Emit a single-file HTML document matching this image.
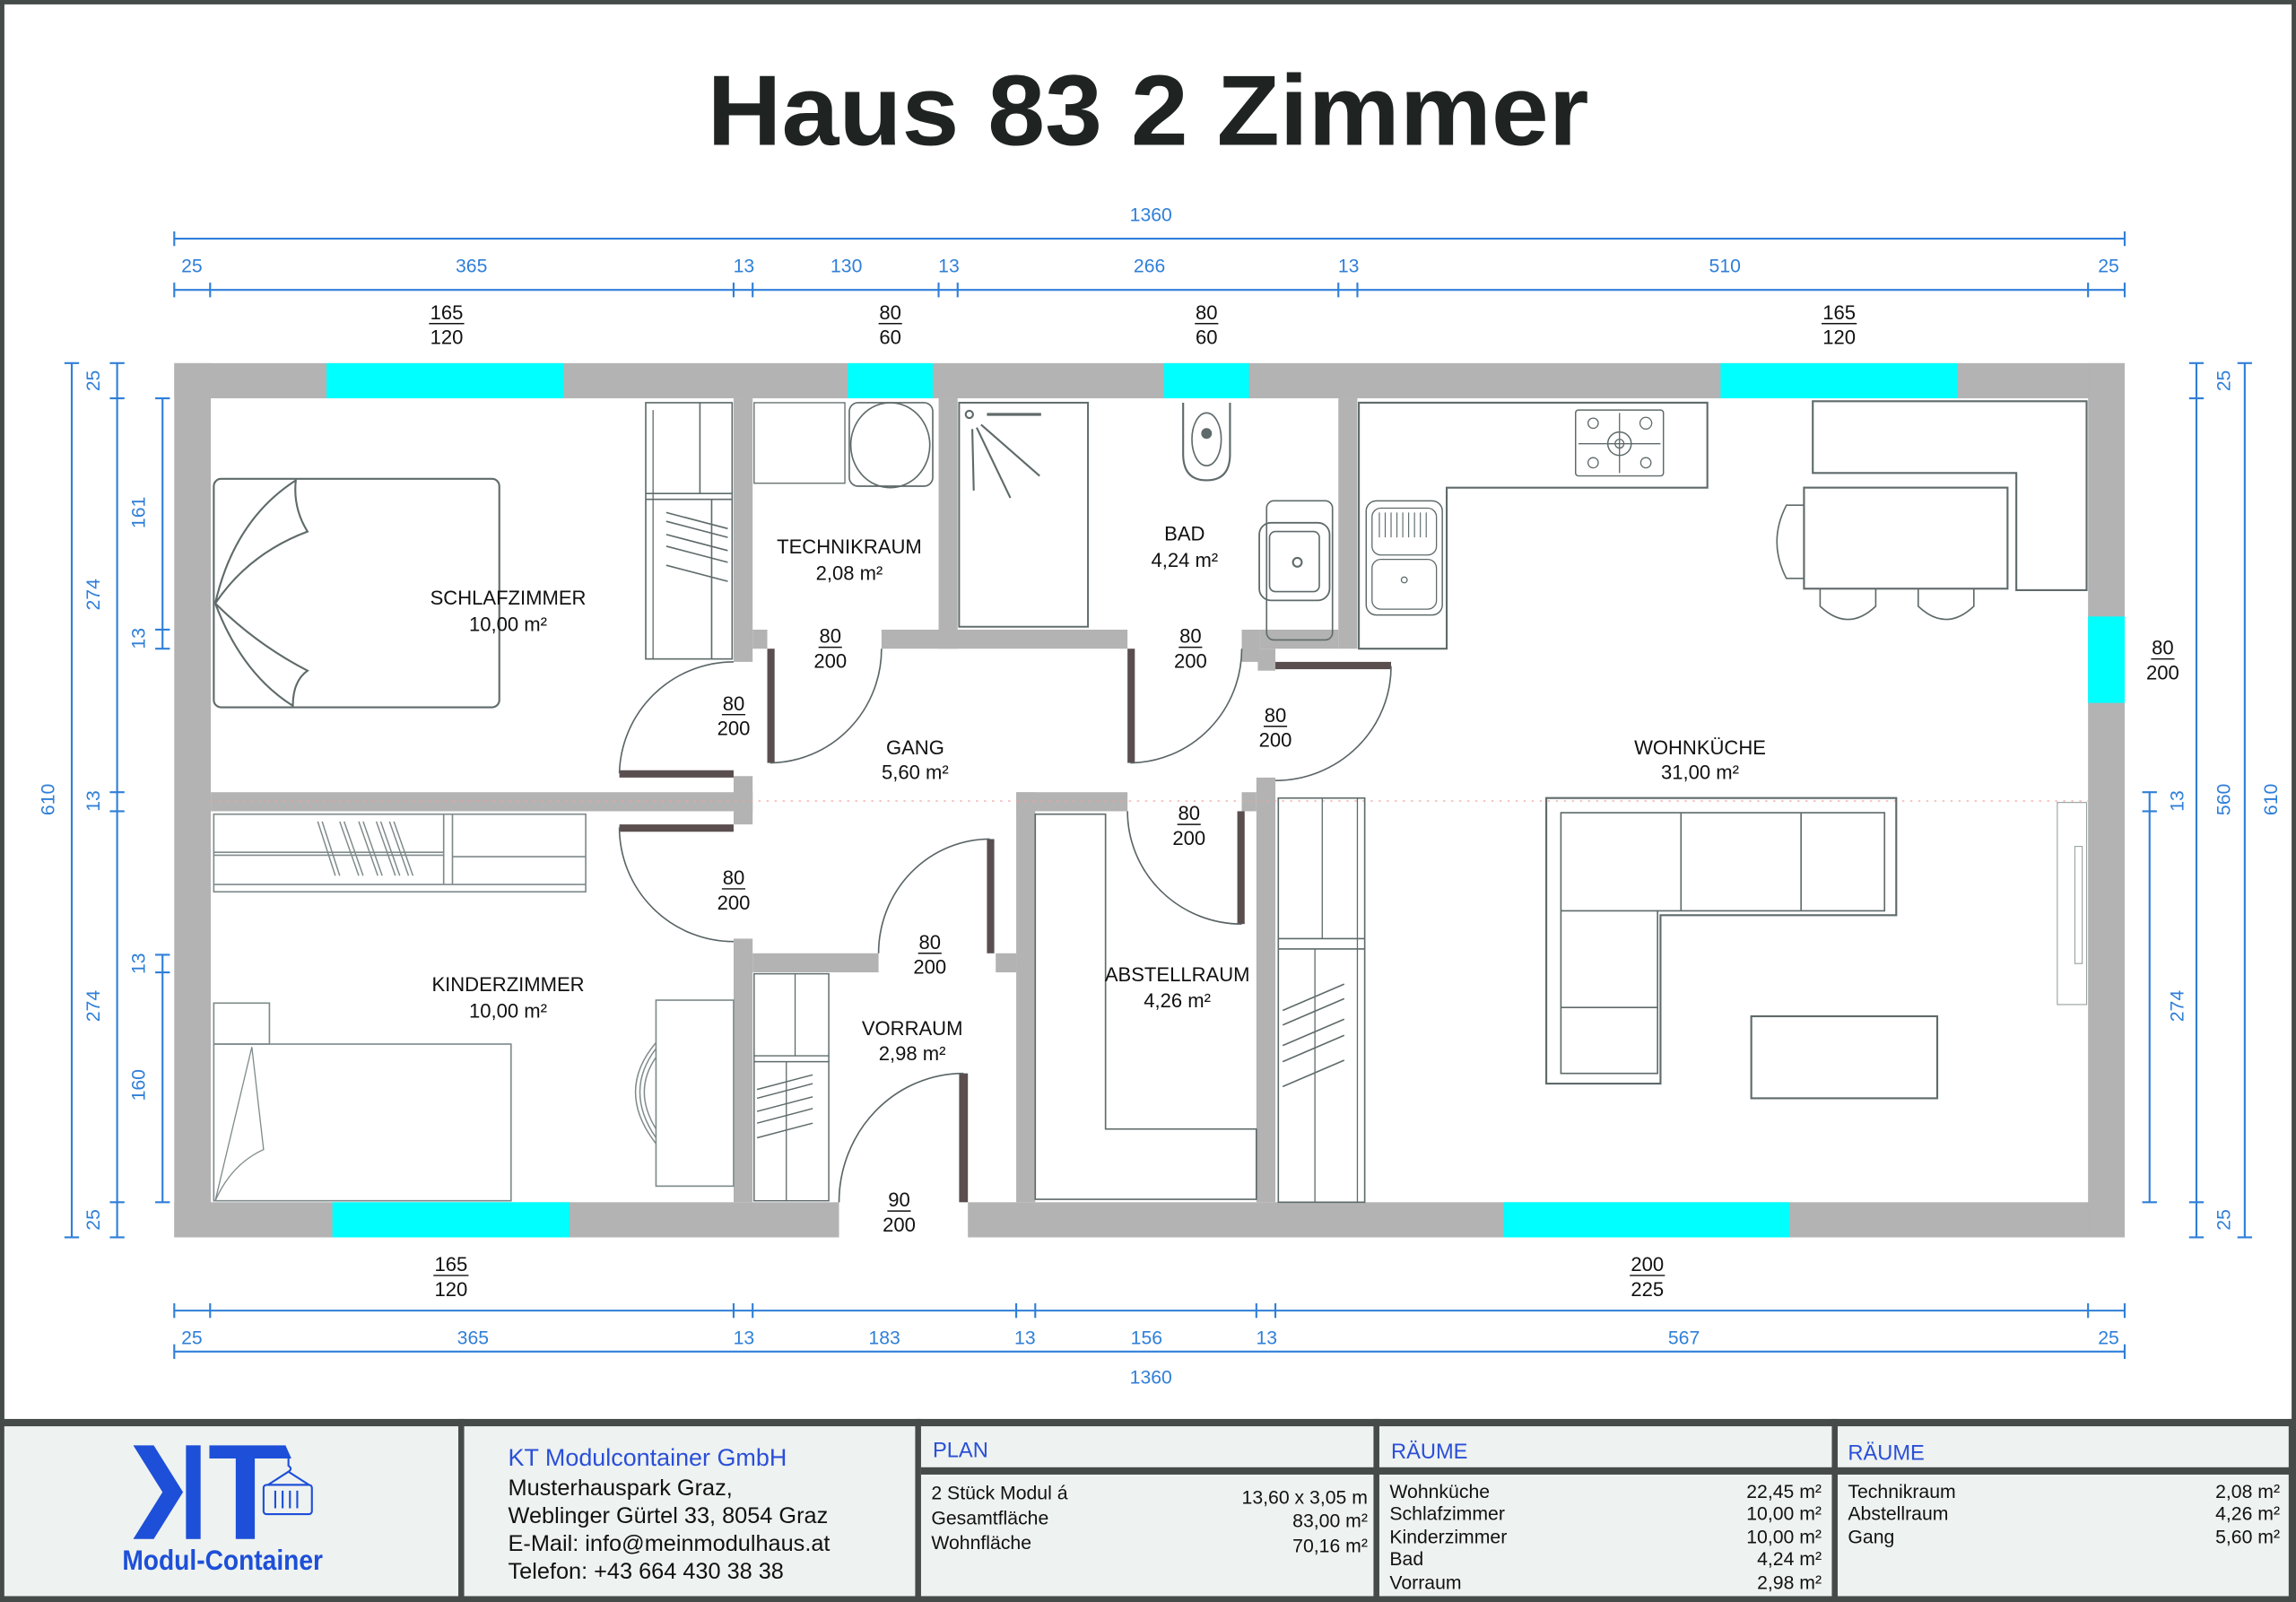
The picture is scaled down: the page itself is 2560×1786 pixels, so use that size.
<!DOCTYPE html>
<html><head><meta charset="utf-8"><style>
html,body{margin:0;padding:0;background:#fff;}
svg{display:block;}
text{font-family:"Liberation Sans",sans-serif;}
</style></head><body>
<svg width="2560" height="1786" viewBox="0 0 1568 1094" preserveAspectRatio="none" xmlns="http://www.w3.org/2000/svg">
<rect x="0" y="0" width="1568" height="1094" fill="#fff"/>
<!-- frame -->
<rect x="1.5" y="1.5" width="1565" height="1091" fill="none" stroke="#454b48" stroke-width="3"/>
<!-- title -->
<text x="784" y="99" font-size="68" font-weight="bold" text-anchor="middle" fill="#1f2321" textLength="602" lengthAdjust="spacingAndGlyphs">Haus 83 2 Zimmer</text>

<!-- dimension lines -->
<g stroke="#2f7fd8" stroke-width="1.3" fill="none">
  <line x1="119" y1="163" x2="1451" y2="163"/>
  <line x1="119" y1="158" x2="119" y2="168"/><line x1="1451" y1="158" x2="1451" y2="168"/>
  <line x1="119" y1="198" x2="1451" y2="198"/>
  <g>
  <line x1="119" y1="193" x2="119" y2="203"/><line x1="143.5" y1="193" x2="143.5" y2="203"/><line x1="501" y1="193" x2="501" y2="203"/><line x1="514" y1="193" x2="514" y2="203"/><line x1="641" y1="193" x2="641" y2="203"/><line x1="654" y1="193" x2="654" y2="203"/><line x1="914" y1="193" x2="914" y2="203"/><line x1="927" y1="193" x2="927" y2="203"/><line x1="1426" y1="193" x2="1426" y2="203"/><line x1="1451" y1="193" x2="1451" y2="203"/>
  </g>
  <line x1="119" y1="895" x2="1451" y2="895"/>
  <line x1="119" y1="890" x2="119" y2="900"/><line x1="143.5" y1="890" x2="143.5" y2="900"/><line x1="501" y1="890" x2="501" y2="900"/><line x1="514" y1="890" x2="514" y2="900"/><line x1="694" y1="890" x2="694" y2="900"/><line x1="707" y1="890" x2="707" y2="900"/><line x1="858" y1="890" x2="858" y2="900"/><line x1="871" y1="890" x2="871" y2="900"/><line x1="1426" y1="890" x2="1426" y2="900"/><line x1="1451" y1="890" x2="1451" y2="900"/>
  <line x1="119" y1="923" x2="1451" y2="923"/>
  <line x1="119" y1="918" x2="119" y2="928"/><line x1="1451" y1="918" x2="1451" y2="928"/>
  <!-- left -->
  <line x1="49" y1="248" x2="49" y2="845"/>
  <line x1="44" y1="248" x2="54" y2="248"/><line x1="44" y1="845" x2="54" y2="845"/>
  <line x1="80" y1="248" x2="80" y2="845"/>
  <line x1="75" y1="248" x2="85" y2="248"/><line x1="75" y1="272" x2="85" y2="272"/><line x1="75" y1="541" x2="85" y2="541"/><line x1="75" y1="554" x2="85" y2="554"/><line x1="75" y1="821" x2="85" y2="821"/><line x1="75" y1="845" x2="85" y2="845"/>
  <line x1="111" y1="272" x2="111" y2="443"/>
  <line x1="106" y1="272" x2="116" y2="272"/><line x1="106" y1="430" x2="116" y2="430"/><line x1="106" y1="443" x2="116" y2="443"/>
  <line x1="111" y1="652" x2="111" y2="821"/>
  <line x1="106" y1="652" x2="116" y2="652"/><line x1="106" y1="664" x2="116" y2="664"/><line x1="106" y1="821" x2="116" y2="821"/>
  <!-- right -->
  <line x1="1468" y1="541" x2="1468" y2="821"/>
  <line x1="1463" y1="541" x2="1473" y2="541"/><line x1="1463" y1="554" x2="1473" y2="554"/><line x1="1463" y1="821" x2="1473" y2="821"/>
  <line x1="1500" y1="248" x2="1500" y2="845"/>
  <line x1="1495" y1="248" x2="1505" y2="248"/><line x1="1495" y1="272" x2="1505" y2="272"/><line x1="1495" y1="821" x2="1505" y2="821"/><line x1="1495" y1="845" x2="1505" y2="845"/>
  <line x1="1533" y1="248" x2="1533" y2="845"/>
  <line x1="1528" y1="248" x2="1538" y2="248"/><line x1="1528" y1="845" x2="1538" y2="845"/>
</g>
<g fill="#2f7fd8" font-size="13" text-anchor="middle">
  <text x="786" y="151">1360</text>
  <text x="131" y="186">25</text><text x="322" y="186">365</text><text x="508" y="186">13</text><text x="578" y="186">130</text><text x="648" y="186">13</text><text x="785" y="186">266</text><text x="921" y="186">13</text><text x="1178" y="186">510</text><text x="1440" y="186">25</text>
  <text x="131" y="918">25</text><text x="323" y="918">365</text><text x="508" y="918">13</text><text x="604" y="918">183</text><text x="700" y="918">13</text><text x="783" y="918">156</text><text x="865" y="918">13</text><text x="1150" y="918">567</text><text x="1440" y="918">25</text>
  <text x="786" y="945">1360</text>
  <text transform="translate(37,546) rotate(-90)">610</text>
  <text transform="translate(68,260) rotate(-90)">25</text>
  <text transform="translate(68,406) rotate(-90)">274</text>
  <text transform="translate(68,547) rotate(-90)">13</text>
  <text transform="translate(68,687) rotate(-90)">274</text>
  <text transform="translate(68,833) rotate(-90)">25</text>
  <text transform="translate(99,350) rotate(-90)">161</text>
  <text transform="translate(99,436) rotate(-90)">13</text>
  <text transform="translate(99,658) rotate(-90)">13</text>
  <text transform="translate(99,741) rotate(-90)">160</text>
  <text transform="translate(1491,547) rotate(-90)">13</text>
  <text transform="translate(1491,687) rotate(-90)">274</text>
  <text transform="translate(1523,260) rotate(-90)">25</text>
  <text transform="translate(1523,546) rotate(-90)">560</text>
  <text transform="translate(1523,833) rotate(-90)">25</text>
  <text transform="translate(1555,546) rotate(-90)">610</text>
</g>

<!-- walls -->
<g fill="#b3b3b3">
  <rect x="119" y="248" width="1332" height="24"/>
  <rect x="119" y="821" width="454" height="24"/>
  <rect x="661" y="821" width="790" height="24"/>
  <rect x="119" y="248" width="25" height="597"/>
  <rect x="1426" y="248" width="25" height="597"/>
  <rect x="501" y="272" width="13" height="180"/>
  <rect x="514" y="430" width="10" height="13"/>
  <rect x="602" y="430" width="168" height="13"/>
  <rect x="641" y="272" width="13" height="171"/>
  <rect x="848" y="430" width="12" height="22"/>
  <rect x="860" y="430" width="54" height="13"/>
  <rect x="914" y="272" width="13" height="171"/>
  <rect x="859" y="443" width="12" height="15"/>
  <rect x="144" y="541" width="370" height="13"/>
  <rect x="501" y="530" width="13" height="33"/>
  <rect x="501" y="641" width="13" height="180"/>
  <rect x="514" y="651" width="86" height="13"/>
  <rect x="680" y="651" width="14" height="13"/>
  <rect x="694" y="541" width="13" height="280"/>
  <rect x="694" y="541" width="76" height="13"/>
  <rect x="848" y="541" width="10" height="13"/>
  <rect x="858" y="531" width="13" height="290"/>
</g>
<g fill="#00ffff">
  <rect x="223" y="248" width="162" height="24"/>
  <rect x="579" y="248" width="58" height="24"/>
  <rect x="795" y="248" width="58" height="24"/>
  <rect x="1175" y="248" width="162" height="24"/>
  <rect x="227" y="821" width="162" height="24"/>
  <rect x="1027" y="821" width="195" height="24"/>
  <rect x="1426" y="421" width="25" height="59"/>
</g>
<line x1="144" y1="547" x2="1426" y2="547" stroke="#f2a0a0" stroke-width="0.8" stroke-dasharray="1.5 4"/>

<!-- doors -->
<g fill="#5a4e4e">
  <rect x="423" y="526" width="78" height="5"/>
  <rect x="524" y="443" width="5" height="78"/>
  <rect x="770" y="443" width="5" height="78"/>
  <rect x="871" y="452" width="79" height="5"/>
  <rect x="423" y="563" width="78" height="5"/>
  <rect x="674" y="573" width="5" height="78"/>
  <rect x="845" y="554" width="5" height="77"/>
  <rect x="655" y="733" width="6" height="88"/>
</g>
<g fill="none" stroke="#5a6466" stroke-width="1">
  <path d="M423,528 A78,78 0 0 1 501,452"/>
  <path d="M526,521 A77,78 0 0 0 602,443"/>
  <path d="M772,521 A77,78 0 0 0 848,443"/>
  <path d="M950,455 A79,78 0 0 1 871,533"/>
  <path d="M423,565 A78,78 0 0 0 501,643"/>
  <path d="M676,573 A76,78 0 0 0 600,651"/>
  <path d="M848,631 A78,77 0 0 1 770,554"/>
  <path d="M658,733 A85,88 0 0 0 573,821"/>
</g>

<!-- furniture -->
<g fill="none" stroke="#5f6a6a" stroke-width="1.3">
  <!-- schlaf bed -->
  <rect x="146" y="327" width="195" height="156" rx="5"/>
  <path d="M147,412 Q160,355 202,328 Q200,347 210,363 Q170,378 147,412"/>
  <path d="M147,412 Q165,460 200,482 Q200,465 210,458 Q175,440 147,412"/>
  <!-- schlaf wardrobe -->
  <rect x="441" y="275" width="59" height="175" stroke-width="1"/>
  <line x1="441" y1="337" x2="500" y2="337" stroke-width="1"/><line x1="441" y1="341" x2="500" y2="341" stroke-width="1"/>
  <line x1="478" y1="275" x2="478" y2="337" stroke-width="1"/><line x1="486" y1="341" x2="486" y2="450" stroke-width="1"/>
  <line x1="446" y1="280" x2="446" y2="450" stroke-width="0.8"/>
  <g stroke-width="1"><path d="M455,350 L497,361 M455,356 L497,367 M455,365 L497,376 M455,373 L497,384 M455,386 L497,397"/></g>
  <!-- technikraum -->
  <rect x="515" y="275" width="62" height="55" stroke-width="0.8"/>
  <rect x="580" y="275" width="57" height="57" rx="6" stroke-width="1"/>
  <ellipse cx="608" cy="304" rx="27" ry="29" stroke-width="1"/>
  <!-- bad -->
  <rect x="655" y="275" width="88" height="153" stroke-width="1.2"/>
  <circle cx="662" cy="283" r="2.5"/><line x1="674" y1="283" x2="711" y2="283" stroke-width="2"/>
  <line x1="670" y1="290" x2="710" y2="325"/><line x1="667" y1="292" x2="690" y2="340"/><line x1="664" y1="293" x2="665" y2="335"/>
  <path d="M808,275 L808,310 Q808,328 824,328 Q840,328 840,310 L840,275"/>
  <ellipse cx="824" cy="300" rx="10" ry="18" stroke-width="1"/>
  <circle cx="824" cy="296" r="3" fill="#5f6a6a"/>
  <rect x="865" y="342" width="45" height="95" rx="5" stroke-width="1"/>
  <rect x="860" y="357" width="48" height="53" rx="8" stroke-width="1.1"/>
  <rect x="867" y="363" width="34" height="41" rx="4" stroke-width="1"/>
  <circle cx="886" cy="384" r="3"/>
  <!-- kitchen counter -->
  <path d="M928,275 L1166,275 L1166,333 L988,333 L988,443 L928,443 Z"/>
  <rect x="1076" y="280" width="60" height="45" rx="2" stroke-width="0.9"/>
  <line x1="1106" y1="282" x2="1106" y2="323" stroke-width="0.8"/><line x1="1078" y1="303" x2="1134" y2="303" stroke-width="0.8"/>
  <circle cx="1106" cy="303" r="8" stroke-width="0.9"/><circle cx="1106" cy="303" r="3" stroke-width="0.8"/>
  <circle cx="1088" cy="289" r="3.5" stroke-width="0.8"/><circle cx="1124" cy="289" r="4" stroke-width="0.8"/>
  <circle cx="1088" cy="316" r="3.5" stroke-width="0.8"/><circle cx="1124" cy="316" r="3.5" stroke-width="0.8"/>
  <rect x="933" y="342" width="52" height="78" rx="7" stroke-width="0.9"/>
  <rect x="937" y="347" width="44" height="32" rx="6" stroke-width="0.8"/>
  <path d="M942,350 L942,367 M946,350 L946,367 M950,350 L950,367 M954,350 L954,367 M958,350 L958,367 M962,350 L962,367 M966,350 L966,367 M970,350 L970,367 M974,350 L974,367" stroke-width="0.7"/>
  <rect x="937" y="382" width="44" height="34" rx="6" stroke-width="0.8"/>
  <circle cx="959" cy="396" r="2" stroke-width="0.8"/>
  <!-- right upper cabinet -->
  <path d="M1238,274 L1425,274 L1425,403 L1377,403 L1377,323 L1238,323 Z"/>
  <rect x="1232" y="333" width="139" height="69"/>
  <path d="M1232,345 L1220,345 Q1207,370 1220,395 L1232,395" stroke-width="1"/>
  <path d="M1243,402 L1243,414 Q1262,432 1281,414 L1281,402 M1310,402 L1310,414 Q1329,432 1348,414 L1348,402" stroke-width="1"/>
  <!-- kitchen wardrobe -->
  <rect x="873" y="545" width="59" height="276" stroke-width="1"/>
  <line x1="873" y1="641" x2="932" y2="641" stroke-width="1"/><line x1="873" y1="648" x2="932" y2="648" stroke-width="1"/>
  <line x1="903" y1="545" x2="903" y2="641" stroke-width="0.8"/><line x1="898" y1="648" x2="898" y2="821" stroke-width="0.8"/><line x1="927" y1="545" x2="927" y2="821" stroke-width="0.8"/>
  <g stroke-width="1"><path d="M876,690 L918,672 M876,700 L918,682 M876,714 L918,696 M876,725 L918,707 M876,742 L918,724"/></g>
  <!-- sofa -->
  <path d="M1056,545 L1295,545 L1295,625 L1134,625 L1134,740 L1056,740 Z"/>
  <path d="M1066,555 L1287,555 L1287,622 L1132,622 L1132,733 L1066,733 Z" stroke-width="1"/>
  <line x1="1148" y1="555" x2="1148" y2="622" stroke-width="1"/><line x1="1230" y1="555" x2="1230" y2="622" stroke-width="1"/>
  <line x1="1066" y1="622" x2="1132" y2="622" stroke-width="1"/><line x1="1066" y1="688" x2="1132" y2="688" stroke-width="1"/>
  <rect x="1196" y="694" width="127" height="56"/>
  <rect x="1405" y="548" width="20" height="138" stroke-width="0.7" stroke="#9aa3a3"/>
  <rect x="1417" y="578" width="5" height="80" stroke-width="0.7" stroke="#9aa3a3"/>
  <!-- abstellraum shelf -->
  <path d="M707,556 L755,556 L755,771 L858,771 L858,819 L707,819 Z" stroke-width="1"/>
  <!-- vorraum wardrobe -->
  <rect x="515" y="665" width="51" height="155" stroke-width="0.9"/>
  <line x1="515" y1="721" x2="566" y2="721" stroke-width="0.9"/><line x1="515" y1="725" x2="566" y2="725" stroke-width="0.9"/>
  <line x1="543" y1="665" x2="543" y2="721" stroke-width="0.8"/><line x1="537" y1="725" x2="537" y2="820" stroke-width="0.8"/>
  <g stroke-width="0.9"><path d="M517,744 L555,734 M517,750 L555,740 M517,759 L555,749 M517,767 L555,757 M517,777 L555,767"/></g>
</g>
<!-- kinderzimmer furniture (lighter) -->
<g fill="none" stroke="#7f8a8a" stroke-width="1">
  <rect x="146" y="556" width="254" height="53"/>
  <line x1="146" y1="604" x2="400" y2="604"/>
  <line x1="146" y1="582" x2="303" y2="582"/><line x1="146" y1="584" x2="303" y2="584"/>
  <line x1="303" y1="556" x2="303" y2="604"/><line x1="309" y1="556" x2="309" y2="604"/>
  <line x1="309" y1="585" x2="400" y2="585"/>
  <path d="M217,561 L229,598 M220,561 L232,598 M232,561 L245,598 M235,561 L248,598 M245,561 L258,598 M248,561 L261,598 M257,561 L270,598 M260,561 L273,598 M266,561 L279,598 M269,561 L282,598" stroke-width="0.9"/>
  <rect x="146" y="685" width="38" height="28"/>
  <rect x="146" y="713" width="203" height="107"/>
  <path d="M147,820 L172,715 L180,785 Q158,795 147,820" stroke-width="0.8"/>
  <rect x="448" y="683" width="53" height="127"/>
  <path d="M448,712 Q420,745 448,781" stroke-width="0.9"/>
  <path d="M448,716 Q426,745 448,777" stroke-width="0.9"/>
  <path d="M448,722 Q432,745 448,771" stroke-width="0.9"/>
</g>

<!-- window / door labels -->
<g fill="#111" font-size="13.5" text-anchor="middle">
  <text x="305" y="218">165</text><text x="305" y="235">120</text>
  <text x="608" y="218">80</text><text x="608" y="235">60</text>
  <text x="824" y="218">80</text><text x="824" y="235">60</text>
  <text x="1256" y="218">165</text><text x="1256" y="235">120</text>
  <text x="308" y="868">165</text><text x="308" y="885">120</text>
  <text x="1125" y="868">200</text><text x="1125" y="885">225</text>
  <text x="567" y="439">80</text><text x="567" y="456">200</text>
  <text x="501" y="485">80</text><text x="501" y="502">200</text>
  <text x="813" y="439">80</text><text x="813" y="456">200</text>
  <text x="871" y="493">80</text><text x="871" y="510">200</text>
  <text x="812" y="560">80</text><text x="812" y="577">200</text>
  <text x="501" y="604">80</text><text x="501" y="621">200</text>
  <text x="635" y="648">80</text><text x="635" y="665">200</text>
  <text x="614" y="824">90</text><text x="614" y="841">200</text>
  <text x="1477" y="447">80</text><text x="1477" y="464">200</text>
</g>
<g stroke="#111" stroke-width="0.9">
  <line x1="293" y1="221" x2="317" y2="221"/><line x1="600" y1="221" x2="616" y2="221"/><line x1="816" y1="221" x2="832" y2="221"/><line x1="1244" y1="221" x2="1268" y2="221"/>
  <line x1="296" y1="871" x2="320" y2="871"/><line x1="1113" y1="871" x2="1137" y2="871"/>
  <line x1="559" y1="442" x2="575" y2="442"/><line x1="493" y1="488" x2="509" y2="488"/><line x1="805" y1="442" x2="821" y2="442"/><line x1="863" y1="496" x2="879" y2="496"/><line x1="804" y1="563" x2="820" y2="563"/><line x1="493" y1="607" x2="509" y2="607"/><line x1="627" y1="651" x2="643" y2="651"/><line x1="606" y1="827" x2="622" y2="827"/><line x1="1469" y1="450" x2="1485" y2="450"/>
</g>
<!-- room labels -->
<g fill="#111" font-size="13.5" text-anchor="middle">
  <text x="347" y="413">SCHLAFZIMMER</text><text x="347" y="431">10,00 m²</text>
  <text x="580" y="378">TECHNIKRAUM</text><text x="580" y="396">2,08 m²</text>
  <text x="809" y="369">BAD</text><text x="809" y="387">4,24 m²</text>
  <text x="625" y="515">GANG</text><text x="625" y="532">5,60 m²</text>
  <text x="1161" y="515">WOHNKÜCHE</text><text x="1161" y="532">31,00 m²</text>
  <text x="347" y="677">KINDERZIMMER</text><text x="347" y="695">10,00 m²</text>
  <text x="623" y="707">VORRAUM</text><text x="623" y="724">2,98 m²</text>
  <text x="804" y="670">ABSTELLRAUM</text><text x="804" y="688">4,26 m²</text>
</g>

<!-- bottom table -->
<rect x="3" y="972" width="1562" height="120" fill="#eef2f0"/>
<g fill="#454b48">
  <rect x="0" y="969" width="1568" height="5"/>
  <rect x="0" y="1090" width="1568" height="4"/>
  <rect x="313" y="969" width="4" height="125"/>
  <rect x="625" y="969" width="4" height="125"/>
  <rect x="938" y="969" width="4" height="125"/>
  <rect x="1251" y="969" width="4" height="125"/>
  <rect x="629" y="1002" width="939" height="5"/>
  <rect x="1563" y="969" width="5" height="125"/>
</g>
<!-- logo -->
<g fill="#1d4fd8">
  <polygon points="91,987 105,987 125,1019 105,1051 91,1051 111,1019"/>
  <rect x="127" y="987" width="10" height="64"/>
  <polygon points="143,987 195,987 199,996 174,996 174,1051 161,1051 161,996 143,996"/>
</g>
<g fill="none" stroke="#1d4fd8" stroke-width="1.3">
  <path d="M197,996 L197,1001 Q200,1003 197,1005"/>
  <path d="M197,1005 L183,1014 L211,1014 Z"/>
  <rect x="180" y="1014" width="33" height="20" rx="2"/>
  <path d="M188,1018 L188,1030 M193,1018 L193,1030 M198,1018 L198,1030 M203,1018 L203,1030"/>
</g>
<text x="152" y="1072" font-size="19" font-weight="bold" fill="#1d4fd8" text-anchor="middle" textLength="137" lengthAdjust="spacingAndGlyphs">Modul-Container</text>
<!-- company -->
<text x="347" y="1001" font-size="16.5" fill="#2a4fd8">KT Modulcontainer GmbH</text>
<g font-size="15.5" fill="#111">
  <text x="347" y="1021">Musterhauspark Graz,</text>
  <text x="347" y="1040">Weblinger Gürtel 33, 8054 Graz</text>
  <text x="347" y="1059">E-Mail: info@meinmodulhaus.at</text>
  <text x="347" y="1078">Telefon: +43 664 430 38 38</text>
</g>
<g font-size="14.5" fill="#2a4fd8">
  <text x="637" y="995">PLAN</text>
  <text x="950" y="996">RÄUME</text>
  <text x="1262" y="997">RÄUME</text>
</g>
<g font-size="13" fill="#111">
  <text x="636" y="1024">2 Stück Modul á</text>
  <text x="636" y="1041">Gesamtfläche</text>
  <text x="636" y="1058">Wohnfläche</text>
  <text x="949" y="1023">Wohnküche</text>
  <text x="949" y="1038">Schlafzimmer</text>
  <text x="949" y="1054">Kinderzimmer</text>
  <text x="949" y="1069">Bad</text>
  <text x="949" y="1085">Vorraum</text>
  <text x="1262" y="1023">Technikraum</text>
  <text x="1262" y="1038">Abstellraum</text>
  <text x="1262" y="1054">Gang</text>
</g>
<g font-size="13" fill="#111" text-anchor="end">
  <text x="934" y="1027">13,60 x 3,05 m</text>
  <text x="934" y="1043">83,00 m²</text>
  <text x="934" y="1060">70,16 m²</text>
  <text x="1244" y="1023">22,45 m²</text>
  <text x="1244" y="1038">10,00 m²</text>
  <text x="1244" y="1054">10,00 m²</text>
  <text x="1244" y="1069">4,24 m²</text>
  <text x="1244" y="1085">2,98 m²</text>
  <text x="1557" y="1023">2,08 m²</text>
  <text x="1557" y="1038">4,26 m²</text>
  <text x="1557" y="1054">5,60 m²</text>
</g>
</svg>
</body></html>
